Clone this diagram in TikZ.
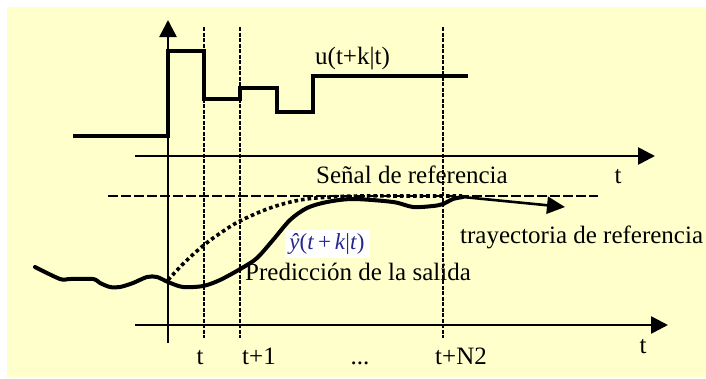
\documentclass[tikz,border=0pt]{standalone}
\usepackage{fontspec}
\setmainfont{Liberation Serif}
\usetikzlibrary{arrows.meta}
\definecolor{MPCYellow}{RGB}{255,255,204}
\definecolor{MPCBlue}{RGB}{40,40,140}

\begin{document}
\begin{tikzpicture}[x=1pt, y=-1pt,
    lbl/.style={font=\fontsize{25}{30}\selectfont, inner sep=0pt},
    axisline/.style={line width=2.6pt, -{Triangle[length=17pt,width=17pt]}},
    sig/.style={line width=4pt, line join=miter},
    tick/.style={line width=1.8pt, dash pattern=on 4pt off 1.5pt},
    refline/.style={line width=1.8pt, dash pattern=on 10pt off 3pt}
  ]
  \useasboundingbox (0,0) rectangle (706,378);
  \fill[MPCYellow] (7,7) rectangle (706,378);

  % Axes
  \coordinate (v0) at (168,343);
  \coordinate (v1) at (168,20);
  \coordinate (ua0) at (135,156);
  \coordinate (ua1) at (655,156);
  \coordinate (ya0) at (135,325);
  \coordinate (ya1) at (668,325);
  \draw[axisline] (v0) -- (v1);
  \draw[axisline] (ua0) -- (ua1);
  \draw[axisline] (ya0) -- (ya1);

  % Sampling instants
  \coordinate (k1a) at (204,27);  \coordinate (k1b) at (204,338);
  \coordinate (k2a) at (240,27);  \coordinate (k2b) at (240,338);
  \coordinate (kNa) at (443,27);  \coordinate (kNb) at (443,338);
  \draw[tick] (k1a) -- (k1b);
  \draw[tick] (k2a) -- (k2b);
  \draw[tick] (kNa) -- (kNb);

  % Control signal
  \draw[sig] (73,136) -- (168,136) -- (168,51) -- (204,51) -- (204,99)
        -- (240,99) -- (240,88) -- (277,88) -- (277,112) -- (313,112)
        -- (313,76) -- (468,76);
  \node[lbl, anchor=base west] (ulabel) at (315,64) {u(t+k|t)};

  % Reference
  \coordinate (r0) at (108,196);
  \coordinate (r1) at (598,196);
  \draw[refline] (r0) -- (r1);
  \node[lbl, anchor=base west] (refsig) at (316,183) {Señal de referencia};
  \node[lbl, anchor=base] (tupper) at (618,183) {t};

  % Reference trajectory (dotted)
  \draw[line width=3.6pt, dash pattern=on 3.6pt off 3pt]
    plot[smooth, tension=0.6] coordinates {(168,280) (185,262) (204,245)
      (222,232) (240,221) (270,208) (300,200) (330,197) (360,196)
      (420,196) (462,196)};

  % Predicted output
  \draw[line width=4pt, line cap=round, line join=round]
    plot[smooth, tension=0.5] coordinates {(35,267) (60,279) (70,279)
      (93,279) (100,283) (110,287) (120,287) (133,283) (147,277)
      (157,277) (168,282) (183,287) (203,286) (220,280) (242,268)
      (257,258) (273,240) (290,220) (307,208) (327,202) (353,199)
      (393,202) (413,207) (433,206) (443,204) (453,199) (463,197)};
  \coordinate (tr0) at (463,197);
  \coordinate (tr1) at (565,207);
  \draw[line width=2.6pt, -{Triangle[length=18pt,width=17pt]}] (tr0) -- (tr1);
  \node[lbl, anchor=base west] (traj) at (460,243) {trayectoria de referencia};

  \node[fill=white, minimum width=85pt, minimum height=28pt, inner sep=0pt,
        text=MPCBlue, font=\fontsize{23}{27}\selectfont] (yhat) at (327,244)
        {\textit{ŷ}(\textit{t}\,+\,\textit{k}|\textit{t})};
  \node[lbl, anchor=base west] (pred) at (245,280) {Predicción de la salida};

  % Time labels
  \node[lbl, anchor=base] (tl0) at (200,364) {t};
  \node[lbl, anchor=base] (tl1) at (259,364) {t+1};
  \node[lbl, anchor=base] (tl2) at (360,364) {...};
  \node[lbl, anchor=base] (tl3) at (461,364) {t+N2};
  \node[lbl, anchor=base] (tlower) at (643,353) {t};
\end{tikzpicture}
\end{document}
